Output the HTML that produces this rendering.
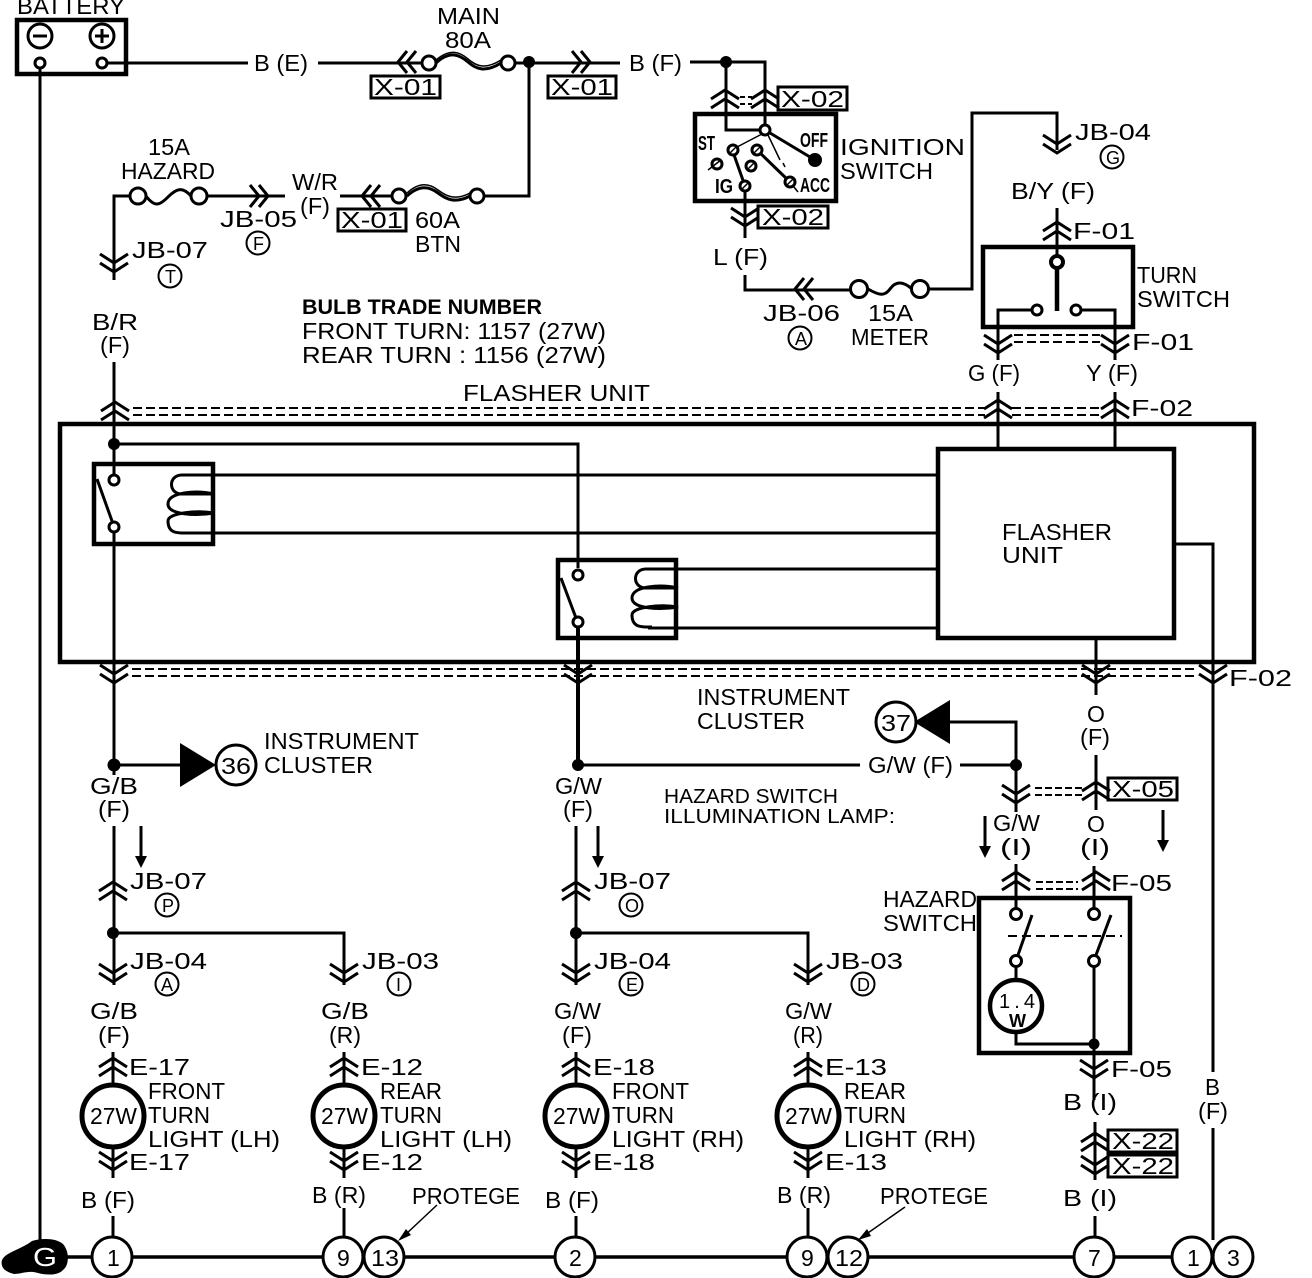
<!DOCTYPE html>
<html><head><meta charset="utf-8"><style>
html,body{margin:0;padding:0;background:#fff}
svg{display:block}
text{font-family:"Liberation Sans",sans-serif;font-size:23px;fill:#000}
.w{fill:none;stroke:#000;stroke-width:3}
.b{fill:none;stroke:#000;stroke-width:4.5}
.d{fill:none;stroke:#000;stroke-width:2;stroke-dasharray:9 4}
.c{fill:#fff;stroke:#000;stroke-width:3}
.k{fill:#000;stroke:none}
.s{font-size:20px;font-weight:bold}
</style></head><body>
<svg xmlns="http://www.w3.org/2000/svg" width="1312" height="1278" viewBox="0 0 1312 1278">
<defs>
<path id="up" d="M-14 9L0 0L14 9M-14 18L0 9L14 18" fill="none" stroke="#000" stroke-width="3"/>
<path id="dn" d="M-14 0L0 9L14 0M-14 9L0 18L14 9" fill="none" stroke="#000" stroke-width="3"/>
<path id="lf" d="M9 -11L0 0L9 11M18 -11L9 0L18 11" fill="none" stroke="#000" stroke-width="3"/>
<path id="rt" d="M0 -11L9 0L0 11M9 -11L18 0L9 11" fill="none" stroke="#000" stroke-width="3"/>
<path id="coil" d="M16 0H10C-4 0 -4 19 10 19H42C24 15 -4 17 -4 29C-4 40 24 41 42 38C24 35 -4 38 -4 46C-4 59 6 58 16 58" fill="none" stroke="#000" stroke-width="3"/>
</defs>

<!-- battery -->
<text x="17" y="14" textLength="108" lengthAdjust="spacingAndGlyphs">BATTERY</text>
<rect x="17" y="20" width="109" height="54" class="b"/>
<circle cx="40" cy="36" r="12" class="c"/>
<circle cx="102" cy="36" r="12" class="c"/>
<path class="w" d="M33 36H47M95 36H109M102 29V43"/>
<path class="w" d="M40 68V1245M107 63H248M318 63H421M515 63H620M690 62H765V130M726 62V130H765M529 62V196H485M392 196H340M285 196H207M130 196H114V280"/>
<circle cx="40" cy="63" r="5" class="c"/><circle cx="102" cy="63" r="5" class="c"/>
<text x="254" y="71" textLength="54" lengthAdjust="spacingAndGlyphs">B (E)</text>

<!-- main fuse -->
<text x="437" y="24" textLength="63" lengthAdjust="spacingAndGlyphs">MAIN</text>
<text x="445" y="48" textLength="46" lengthAdjust="spacingAndGlyphs">80A</text>
<use href="#lf" x="398" y="62"/><use href="#rt" x="572" y="62"/>
<path class="w" d="M436 63C450 50 460 55 468 62S485 73 501 63"/>
<path class="w" d="M436 60C450 48 460 52 468 59S485 70 501 60" style="stroke-width:1.5"/>
<circle cx="429" cy="63" r="7" class="c"/><circle cx="508" cy="63" r="7" class="c"/>
<circle cx="529" cy="62" r="6" class="k"/><circle cx="726" cy="62" r="6" class="k"/>
<rect x="371" y="76" width="69" height="22" class="w"/><text x="374" y="95" textLength="63" lengthAdjust="spacingAndGlyphs">X-01</text>
<rect x="548" y="76" width="68" height="22" class="w"/><text x="551" y="95" textLength="62" lengthAdjust="spacingAndGlyphs">X-01</text>
<text x="629" y="71" textLength="53" lengthAdjust="spacingAndGlyphs">B (F)</text>

<!-- ignition -->
<use href="#up" x="725" y="90"/><use href="#up" x="765" y="90"/>
<path class="d" d="M740 97H752M740 104H752" style="stroke-dasharray:5 3"/>
<rect x="778" y="87" width="69" height="23" class="w"/><text x="781" y="107" textLength="63" lengthAdjust="spacingAndGlyphs">X-02</text>
<rect x="695" y="114" width="141" height="87" class="b"/>
<path class="w" d="M765 130L815 160M745 186L733 152M790 182L757 150"/>
<path d="M762 134L737 147M768 135L780 160M783 163L785 167M798 192L785 176M745 186V200" fill="none" stroke="#000" stroke-width="1.5"/>
<circle cx="765" cy="130" r="5" class="c"/><circle cx="815" cy="160" r="7" class="k"/>
<g class="c"><circle cx="733" cy="150" r="5"/><circle cx="717" cy="164" r="5"/><circle cx="757" cy="150" r="5"/><circle cx="751" cy="166" r="5"/><circle cx="790" cy="182" r="5"/><circle cx="745" cy="186" r="5"/></g>
<path d="M729 154L737 146M708 170L721 160M753 154L761 146M747 170L755 162M786 186L794 178M741 190L749 182" fill="none" stroke="#000" stroke-width="1.5"/>
<path class="w" d="M745 190V238M745 275V290H850M929 289H972V113H1057V150"/>
<use href="#dn" x="745" y="208"/>
<text x="698" y="150" class="s" textLength="17" lengthAdjust="spacingAndGlyphs">ST</text>
<text x="800" y="147" class="s" textLength="28" lengthAdjust="spacingAndGlyphs">OFF</text>
<text x="715" y="193" class="s" textLength="18" lengthAdjust="spacingAndGlyphs">IG</text>
<text x="800" y="192" class="s" textLength="30" lengthAdjust="spacingAndGlyphs">ACC</text>
<text x="840" y="155" textLength="125" lengthAdjust="spacingAndGlyphs">IGNITION</text>
<text x="840" y="179" textLength="93" lengthAdjust="spacingAndGlyphs">SWITCH</text>
<rect x="758" y="206" width="70" height="22" class="w"/><text x="762" y="225" textLength="62" lengthAdjust="spacingAndGlyphs">X-02</text>
<text x="713" y="265" textLength="55" lengthAdjust="spacingAndGlyphs">L (F)</text>
<use href="#lf" x="795" y="289"/>
<path class="w" d="M868 289C880 296 885 296 890 289S902 280 912 289"/>
<circle cx="859" cy="289" r="8.5" class="c"/><circle cx="920" cy="289" r="8.5" class="c"/>
<text x="763" y="321" textLength="77" lengthAdjust="spacingAndGlyphs">JB-06</text>
<circle cx="800" cy="338" r="11.5" class="c" style="stroke-width:2"/><text x="795" y="345" style="font-size:18px">A</text>
<text x="868" y="321" textLength="45" lengthAdjust="spacingAndGlyphs">15A</text>
<text x="851" y="345" textLength="78" lengthAdjust="spacingAndGlyphs">METER</text>

<!-- turn switch -->
<use href="#dn" x="1057" y="135"/>
<text x="1075" y="140" textLength="76" lengthAdjust="spacingAndGlyphs">JB-04</text>
<circle cx="1112" cy="157" r="11.5" class="c" style="stroke-width:2"/><text x="1106" y="164" style="font-size:18px">G</text>
<text x="1011" y="199" textLength="84" lengthAdjust="spacingAndGlyphs">B/Y (F)</text>
<use href="#up" x="1057" y="222"/>
<text x="1073" y="239" textLength="62" lengthAdjust="spacingAndGlyphs">F-01</text>
<path class="w" d="M1057 208V256M1032 310H998V360M1081 310H1115V360M998 392V449M1115 392V449"/>
<path class="b" d="M1057 268V311"/>
<rect x="983" y="247" width="150" height="80" class="b"/>
<circle cx="1057" cy="262" r="6" class="c" style="stroke-width:4"/>
<circle cx="1037" cy="310" r="5" class="c"/><circle cx="1076" cy="310" r="5" class="c"/>
<text x="1137" y="283" textLength="60" lengthAdjust="spacingAndGlyphs">TURN</text>
<text x="1137" y="307" textLength="93" lengthAdjust="spacingAndGlyphs">SWITCH</text>
<use href="#dn" x="998" y="335"/><use href="#dn" x="1115" y="335"/>
<path class="d" d="M1014 335H1100M1014 342H1100"/>
<text x="1132" y="350" textLength="62" lengthAdjust="spacingAndGlyphs">F-01</text>
<text x="968" y="381" textLength="52" lengthAdjust="spacingAndGlyphs">G (F)</text>
<text x="1086" y="381" textLength="52" lengthAdjust="spacingAndGlyphs">Y (F)</text>
<use href="#up" x="998" y="400"/><use href="#up" x="1115" y="400"/>
<text x="1131" y="416" textLength="62" lengthAdjust="spacingAndGlyphs">F-02</text>

<!-- top left -->
<text x="148" y="155" textLength="42" lengthAdjust="spacingAndGlyphs">15A</text>
<text x="121" y="179" textLength="94" lengthAdjust="spacingAndGlyphs">HAZARD</text>
<path class="w" d="M146 196C155 208 160 205 168 197S182 186 191 196"/>
<circle cx="138" cy="196" r="8" class="c"/><circle cx="199" cy="196" r="8" class="c"/>
<use href="#rt" x="250" y="196"/><use href="#lf" x="362" y="196"/>
<text x="292" y="190" textLength="46" lengthAdjust="spacingAndGlyphs">W/R</text>
<text x="300" y="214" textLength="30" lengthAdjust="spacingAndGlyphs">(F)</text>
<text x="220" y="227" textLength="77" lengthAdjust="spacingAndGlyphs">JB-05</text>
<circle cx="258" cy="243" r="11.5" class="c" style="stroke-width:2"/><text x="253" y="250" style="font-size:18px">F</text>
<rect x="338" y="209" width="68" height="22" class="w"/><text x="341" y="228" textLength="62" lengthAdjust="spacingAndGlyphs">X-01</text>
<path class="w" d="M407 196C420 184 430 187 438 193S455 204 470 196"/>
<path class="w" d="M407 193C420 181 430 184 438 190S455 201 470 193" style="stroke-width:1.5"/>
<circle cx="399" cy="196" r="7" class="c"/><circle cx="477" cy="196" r="7" class="c"/>
<text x="415" y="228" textLength="45" lengthAdjust="spacingAndGlyphs">60A</text>
<text x="415" y="252" textLength="46" lengthAdjust="spacingAndGlyphs">BTN</text>
<use href="#dn" x="114" y="254"/>
<text x="132" y="258" textLength="76" lengthAdjust="spacingAndGlyphs">JB-07</text>
<circle cx="170" cy="276" r="11.5" class="c" style="stroke-width:2"/><text x="165" y="283" style="font-size:18px">T</text>
<text x="92" y="330" textLength="46" lengthAdjust="spacingAndGlyphs">B/R</text>
<text x="100" y="353" textLength="30" lengthAdjust="spacingAndGlyphs">(F)</text>
<text x="302" y="314" textLength="240" lengthAdjust="spacingAndGlyphs" style="font-weight:bold;font-size:21px">BULB TRADE NUMBER</text>
<text x="302" y="339" textLength="304" lengthAdjust="spacingAndGlyphs">FRONT  TURN: 1157 (27W)</text>
<text x="302" y="363" textLength="304" lengthAdjust="spacingAndGlyphs">REAR  TURN : 1156 (27W)</text>

<!-- flasher unit -->
<text x="463" y="401" textLength="187" lengthAdjust="spacingAndGlyphs">FLASHER UNIT</text>
<use href="#up" x="115" y="402"/>
<path class="d" d="M133 408H985M133 415H985M1012 408H1100M1012 415H1100"/>
<rect x="60" y="424" width="1194" height="238" class="b"/>
<rect x="938" y="449" width="236" height="189" class="b"/>
<text x="1002" y="540" textLength="110" lengthAdjust="spacingAndGlyphs">FLASHER</text>
<text x="1002" y="563" textLength="61" lengthAdjust="spacingAndGlyphs">UNIT</text>
<path class="w" d="M114 362V476M114 444H578V568M185 475H938M185 533H938M648 569H938M648 628H938M114 532V765M1174 544H1213V1072M1213 1128V1240M1096 638V695"/>
<path class="b" d="M578 627V765" style="stroke-width:4"/>
<circle cx="114" cy="444" r="6" class="k"/>
<rect x="94" y="464" width="119" height="80" class="b"/>
<path class="w" d="M97 479L112 521"/>
<circle cx="114" cy="480" r="5" class="c"/><circle cx="114" cy="527" r="5" class="c"/>
<use href="#coil" x="172" y="475"/>
<rect x="558" y="560" width="118" height="78" class="b"/>
<path class="w" d="M561 578L576 618"/>
<circle cx="578" cy="575" r="5" class="c"/><circle cx="578" cy="622" r="5" class="c"/>
<use href="#coil" x="636" y="569"/>
<use href="#dn" x="114" y="665"/><use href="#dn" x="578" y="665"/><use href="#dn" x="1096" y="665"/><use href="#dn" x="1213" y="665"/>
<path class="d" d="M132 669H1198M132 676H1198"/>
<text x="1229" y="686" textLength="63" lengthAdjust="spacingAndGlyphs">F-02</text>

<!-- middle row -->
<circle cx="114" cy="765" r="6.5" class="k"/><path class="w" d="M114 765H185M114 765V775M114 826V985M113 933H344V985M578 765H860M576 826V985M576 933H808V985M960 765H1016V722H945M1016 765V812M1096 755V810"/>
<path class="k" d="M180 743L216 765L180 787Z"/><circle cx="236" cy="765" r="20" class="c"/><text x="221" y="774" textLength="30" lengthAdjust="spacingAndGlyphs">36</text>
<text x="264" y="749" textLength="155" lengthAdjust="spacingAndGlyphs">INSTRUMENT</text>
<text x="264" y="773" textLength="109" lengthAdjust="spacingAndGlyphs">CLUSTER</text>
<text x="90" y="794" textLength="48" lengthAdjust="spacingAndGlyphs">G/B</text>
<text x="98" y="817" textLength="32" lengthAdjust="spacingAndGlyphs">(F)</text>
<circle cx="578" cy="765" r="6" class="k"/>
<text x="555" y="794" textLength="47" lengthAdjust="spacingAndGlyphs">G/W</text>
<text x="563" y="817" textLength="30" lengthAdjust="spacingAndGlyphs">(F)</text>
<text x="868" y="773" textLength="85" lengthAdjust="spacingAndGlyphs">G/W (F)</text>
<circle cx="1016" cy="765" r="6" class="k"/>
<path class="k" d="M950 700L914 722L950 744Z"/><circle cx="896" cy="722" r="20" class="c"/><text x="881" y="731" textLength="30" lengthAdjust="spacingAndGlyphs">37</text>
<text x="697" y="705" textLength="153" lengthAdjust="spacingAndGlyphs">INSTRUMENT</text>
<text x="697" y="729" textLength="108" lengthAdjust="spacingAndGlyphs">CLUSTER</text>
<text x="664" y="803" textLength="174" lengthAdjust="spacingAndGlyphs" style="font-size:20px">HAZARD SWITCH</text>
<text x="664" y="823" textLength="231" lengthAdjust="spacingAndGlyphs" style="font-size:20px">ILLUMINATION LAMP:</text>
<path class="w" d="M141 826V858"/><path class="k" d="M135 856H147L141 868Z"/>
<path class="w" d="M598 826V858"/><path class="k" d="M592 856H604L598 868Z"/>
<path class="w" d="M1163 810V842"/><path class="k" d="M1157 840H1169L1163 852Z"/>
<path class="w" d="M985 816V848"/><path class="k" d="M979 846H991L985 858Z"/>

<!-- hazard -->
<use href="#dn" x="1016" y="785"/><use href="#up" x="1096" y="782"/>
<path class="d" d="M1035 788H1082M1035 795H1082" style="stroke-dasharray:7 3"/>
<rect x="1108" y="778" width="69" height="22" class="w"/><text x="1112" y="797" textLength="62" lengthAdjust="spacingAndGlyphs">X-05</text>
<text x="1087" y="722" style="font-size:23px">O</text>
<text x="1080" y="745" textLength="30" lengthAdjust="spacingAndGlyphs">(F)</text>
<text x="993" y="831" textLength="47" lengthAdjust="spacingAndGlyphs">G/W</text>
<text x="1000" y="855" textLength="32" lengthAdjust="spacingAndGlyphs">(I)</text>
<text x="1087" y="832" style="font-size:23px">O</text>
<text x="1080" y="855" textLength="30" lengthAdjust="spacingAndGlyphs">(I)</text>
<path class="w" d="M1016 864V909M1094 866V909M1094 966V1100M1016 967V980M1016 1032V1044H1094M1095 1122V1180M1095 1216V1240"/>
<use href="#up" x="1016" y="872"/><use href="#up" x="1096" y="872"/>
<path class="d" d="M1036 882H1078M1036 889H1078" style="stroke-dasharray:7 3"/>
<text x="1111" y="891" textLength="61" lengthAdjust="spacingAndGlyphs">F-05</text>
<rect x="979" y="898" width="151" height="155" class="b"/>
<text x="883" y="907" textLength="94" lengthAdjust="spacingAndGlyphs">HAZARD</text>
<text x="883" y="931" textLength="94" lengthAdjust="spacingAndGlyphs">SWITCH</text>
<circle cx="1016" cy="914" r="5.5" class="c"/><circle cx="1094" cy="914" r="5.5" class="c"/><circle cx="1016" cy="961" r="5.5" class="c"/><circle cx="1094" cy="961" r="5.5" class="c"/>
<path class="w" d="M1018 955L1032 915M1096 955L1111 915"/>
<path class="d" d="M1008 936H1122" style="stroke-dasharray:9 5"/>
<circle cx="1016" cy="1006" r="26" class="c" style="stroke-width:4.5"/>
<text x="999" y="1008" textLength="36" lengthAdjust="spacing" style="font-size:20px">1.4</text>
<text x="1009" y="1027" style="font-size:18px;font-weight:bold">W</text>
<circle cx="1094" cy="1044" r="5.5" class="k"/>
<use href="#dn" x="1094" y="1060"/>
<text x="1111" y="1077" textLength="61" lengthAdjust="spacingAndGlyphs">F-05</text>
<text x="1063" y="1110" textLength="54" lengthAdjust="spacingAndGlyphs">B (I)</text>
<use href="#up" x="1095" y="1133"/><use href="#dn" x="1095" y="1156"/>
<rect x="1108" y="1130" width="69" height="22" class="w"/><text x="1112" y="1149" textLength="62" lengthAdjust="spacingAndGlyphs">X-22</text>
<rect x="1108" y="1155" width="69" height="22" class="w"/><text x="1112" y="1174" textLength="62" lengthAdjust="spacingAndGlyphs">X-22</text>
<text x="1063" y="1206" textLength="54" lengthAdjust="spacingAndGlyphs">B (I)</text>
<text x="1205" y="1095" textLength="15" lengthAdjust="spacingAndGlyphs">B</text>
<text x="1198" y="1119" textLength="30" lengthAdjust="spacingAndGlyphs">(F)</text>

<!-- column 1 -->
<use href="#up" x="113" y="882"/><circle cx="113" cy="933" r="6" class="k"/>
<text x="130" y="889" textLength="77" lengthAdjust="spacingAndGlyphs">JB-07</text>
<circle cx="167" cy="905" r="11.5" class="c" style="stroke-width:2"/><text x="162" y="912" style="font-size:18px">P</text>
<use href="#dn" x="113" y="964"/><use href="#dn" x="344" y="964"/>
<text x="130" y="969" textLength="77" lengthAdjust="spacingAndGlyphs">JB-04</text>
<circle cx="167" cy="984" r="11.5" class="c" style="stroke-width:2"/><text x="161" y="991" style="font-size:18px">A</text>
<text x="362" y="969" textLength="77" lengthAdjust="spacingAndGlyphs">JB-03</text>
<circle cx="399" cy="984" r="11.5" class="c" style="stroke-width:2"/><text x="396" y="991" style="font-size:18px">I</text>
<text x="90" y="1019" textLength="48" lengthAdjust="spacingAndGlyphs">G/B</text>
<text x="98" y="1043" textLength="32" lengthAdjust="spacingAndGlyphs">(F)</text>
<text x="321" y="1019" textLength="48" lengthAdjust="spacingAndGlyphs">G/B</text>
<text x="329" y="1043" textLength="32" lengthAdjust="spacingAndGlyphs">(R)</text>

<!-- column 3 -->
<use href="#up" x="576" y="882"/><circle cx="576" cy="933" r="6" class="k"/>
<text x="594" y="889" textLength="77" lengthAdjust="spacingAndGlyphs">JB-07</text>
<circle cx="631" cy="905" r="11.5" class="c" style="stroke-width:2"/><text x="625" y="912" style="font-size:18px">O</text>
<use href="#dn" x="576" y="964"/><use href="#dn" x="808" y="964"/>
<text x="594" y="969" textLength="77" lengthAdjust="spacingAndGlyphs">JB-04</text>
<circle cx="631" cy="984" r="11.5" class="c" style="stroke-width:2"/><text x="626" y="991" style="font-size:18px">E</text>
<text x="826" y="969" textLength="77" lengthAdjust="spacingAndGlyphs">JB-03</text>
<circle cx="863" cy="984" r="11.5" class="c" style="stroke-width:2"/><text x="857" y="991" style="font-size:18px">D</text>
<text x="554" y="1019" textLength="47" lengthAdjust="spacingAndGlyphs">G/W</text>
<text x="562" y="1043" textLength="30" lengthAdjust="spacingAndGlyphs">(F)</text>
<text x="785" y="1019" textLength="47" lengthAdjust="spacingAndGlyphs">G/W</text>
<text x="793" y="1043" textLength="30" lengthAdjust="spacingAndGlyphs">(R)</text>

<!-- bulbs -->
<path class="w" d="M113 1052V1085M344 1052V1085M576 1052V1085M808 1052V1085M113 1147V1178M344 1147V1178M576 1147V1178M808 1147V1178M113 1216V1240M344 1208V1240M576 1216V1240M808 1208V1240"/>
<use href="#up" x="113" y="1058"/><use href="#up" x="344" y="1058"/><use href="#up" x="576" y="1058"/><use href="#up" x="808" y="1058"/>
<circle cx="113" cy="1116" r="31" class="c" style="stroke-width:5"/><circle cx="344" cy="1116" r="31" class="c" style="stroke-width:5"/><circle cx="576" cy="1116" r="31" class="c" style="stroke-width:5"/><circle cx="808" cy="1116" r="31" class="c" style="stroke-width:5"/>
<text x="90" y="1124" textLength="47" lengthAdjust="spacingAndGlyphs">27W</text>
<text x="321" y="1124" textLength="47" lengthAdjust="spacingAndGlyphs">27W</text>
<text x="553" y="1124" textLength="47" lengthAdjust="spacingAndGlyphs">27W</text>
<text x="785" y="1124" textLength="47" lengthAdjust="spacingAndGlyphs">27W</text>
<use href="#dn" x="113" y="1152"/><use href="#dn" x="344" y="1152"/><use href="#dn" x="576" y="1152"/><use href="#dn" x="808" y="1152"/>
<text x="129" y="1075" textLength="61" lengthAdjust="spacingAndGlyphs">E-17</text><text x="129" y="1170" textLength="61" lengthAdjust="spacingAndGlyphs">E-17</text>
<text x="361" y="1075" textLength="62" lengthAdjust="spacingAndGlyphs">E-12</text><text x="361" y="1170" textLength="62" lengthAdjust="spacingAndGlyphs">E-12</text>
<text x="593" y="1075" textLength="62" lengthAdjust="spacingAndGlyphs">E-18</text><text x="593" y="1170" textLength="62" lengthAdjust="spacingAndGlyphs">E-18</text>
<text x="825" y="1075" textLength="62" lengthAdjust="spacingAndGlyphs">E-13</text><text x="825" y="1170" textLength="62" lengthAdjust="spacingAndGlyphs">E-13</text>
<text x="148" y="1099" textLength="77" lengthAdjust="spacingAndGlyphs">FRONT</text><text x="148" y="1123" textLength="62" lengthAdjust="spacingAndGlyphs">TURN</text><text x="148" y="1147" textLength="132" lengthAdjust="spacingAndGlyphs">LIGHT (LH)</text>
<text x="380" y="1099" textLength="62" lengthAdjust="spacingAndGlyphs">REAR</text><text x="380" y="1123" textLength="62" lengthAdjust="spacingAndGlyphs">TURN</text><text x="380" y="1147" textLength="132" lengthAdjust="spacingAndGlyphs">LIGHT (LH)</text>
<text x="612" y="1099" textLength="77" lengthAdjust="spacingAndGlyphs">FRONT</text><text x="612" y="1123" textLength="62" lengthAdjust="spacingAndGlyphs">TURN</text><text x="612" y="1147" textLength="132" lengthAdjust="spacingAndGlyphs">LIGHT (RH)</text>
<text x="844" y="1099" textLength="62" lengthAdjust="spacingAndGlyphs">REAR</text><text x="844" y="1123" textLength="62" lengthAdjust="spacingAndGlyphs">TURN</text><text x="844" y="1147" textLength="132" lengthAdjust="spacingAndGlyphs">LIGHT (RH)</text>
<text x="81" y="1208" textLength="54" lengthAdjust="spacingAndGlyphs">B (F)</text>
<text x="312" y="1203" textLength="54" lengthAdjust="spacingAndGlyphs">B (R)</text>
<text x="545" y="1208" textLength="54" lengthAdjust="spacingAndGlyphs">B (F)</text>
<text x="777" y="1203" textLength="54" lengthAdjust="spacingAndGlyphs">B (R)</text>
<text x="412" y="1204" textLength="108" lengthAdjust="spacingAndGlyphs">PROTEGE</text>
<text x="880" y="1204" textLength="108" lengthAdjust="spacingAndGlyphs">PROTEGE</text>
<path d="M437 1205L405 1235M905 1207L865 1235" fill="none" stroke="#000" stroke-width="1.5"/>
<path class="k" d="M398 1241L406 1229L411 1235ZM858 1240L867 1229L871 1236Z"/>

<!-- bus -->
<path class="w" d="M60 1257H1212" style="stroke-width:3.5"/>
<path class="k" d="M2 1260C6 1252 20 1250 32 1241C42 1238 56 1238 63 1244C70 1252 69 1266 63 1270C58 1276 45 1275 38 1273C28 1270 22 1274 14 1274C6 1272 0 1268 2 1260Z"/>
<text x="33" y="1266" textLength="24" lengthAdjust="spacingAndGlyphs" style="font-size:26px;fill:#fff">G</text>
<g class="c"><circle cx="112" cy="1257" r="20"/><circle cx="343" cy="1257" r="20"/><circle cx="384" cy="1257" r="20"/><circle cx="575" cy="1257" r="20"/><circle cx="807" cy="1257" r="20"/><circle cx="848" cy="1257" r="20"/><circle cx="1094" cy="1257" r="20"/><circle cx="1192" cy="1257" r="20"/><circle cx="1233" cy="1257" r="20"/></g>
<text x="107" y="1266">1</text><text x="337" y="1266">9</text><text x="371" y="1266" textLength="28" lengthAdjust="spacingAndGlyphs">13</text>
<text x="569" y="1266">2</text><text x="801" y="1266">9</text><text x="835" y="1266" textLength="28" lengthAdjust="spacingAndGlyphs">12</text>
<text x="1088" y="1266">7</text><text x="1187" y="1266">1</text><text x="1227" y="1266">3</text>
</svg>
</body></html>
